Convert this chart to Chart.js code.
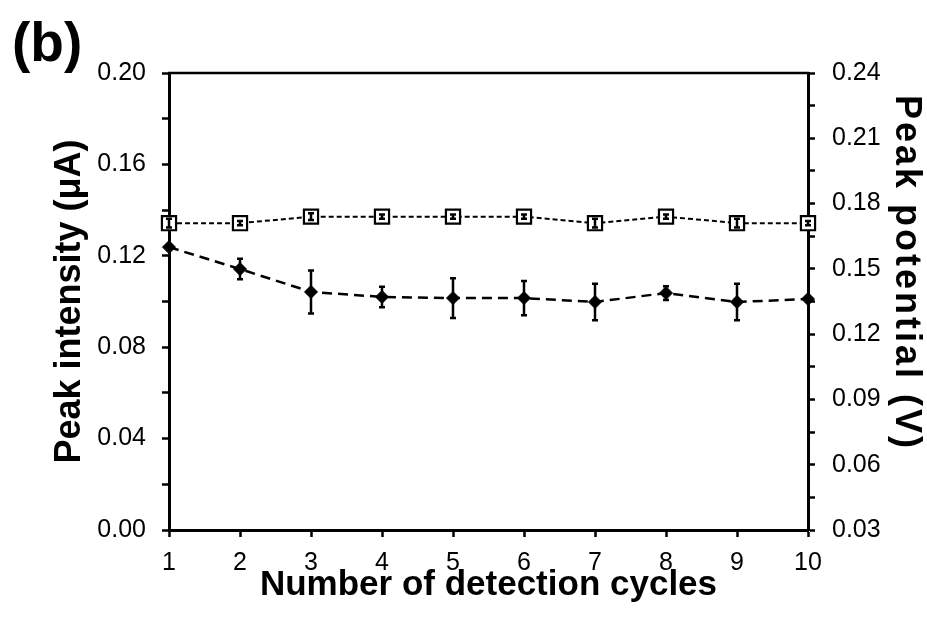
<!DOCTYPE html>
<html>
<head>
<meta charset="utf-8">
<script src="https://cdn.jsdelivr.net/npm/chart.js@4.4.1/dist/chart.umd.min.js"></script>
<style>
html, body { margin: 0; padding: 0; background: #fff; }
#wrap { width: 927px; height: 629px; }
</style>
</head>
<body>
<div id="wrap"><canvas id="chart" width="927" height="629"></canvas></div>
<script>
// values
const cycles = [1, 2, 3, 4, 5, 6, 7, 8, 9, 10];
const intensity = [0.1238, 0.1142, 0.1042, 0.1020, 0.1015, 0.1015, 0.0998, 0.1037, 0.0998, 0.1011];
const intensityErr = [0.001, 0.0045, 0.0094, 0.0045, 0.0087, 0.0075, 0.008, 0.003, 0.008, 0.001];
const potential = [0.171, 0.171, 0.174, 0.174, 0.174, 0.174, 0.171, 0.174, 0.171, 0.171];
const potentialErr = [0.002, 0.001, 0.0015, 0.001, 0.001, 0.001, 0.002, 0.001, 0.002, 0.001];
const intensityTicks = [0.00, 0.04, 0.08, 0.12, 0.16, 0.20];
const potentialTicks = [0.03, 0.06, 0.09, 0.12, 0.15, 0.18, 0.21, 0.24];

const FONT = "'Liberation Sans', Arial, sans-serif";

function majorLabel(list) {
    return function (value) {
        for (var i = 0; i < list.length; i++) {
            if (Math.abs(list[i] - value) < 1e-6) return list[i].toFixed(2);
        }
        return '';
    };
}

// vertical error bars with small caps
const errorBars = {
    id: 'errorBars',
    afterDatasetsDraw(chart) {
        const ctx = chart.ctx;
        const xs = chart.scales.x;
        ctx.save();
        ctx.strokeStyle = '#000';
        ctx.lineWidth = 2.5;
        [[intensity, intensityErr, 'y'], [potential, potentialErr, 'y1']].forEach(function (set) {
            const ys = chart.scales[set[2]];
            cycles.forEach(function (c, i) {
                const px = xs.getPixelForValue(c);
                const top = ys.getPixelForValue(set[0][i] + set[1][i]);
                const bot = ys.getPixelForValue(set[0][i] - set[1][i]);
                ctx.beginPath();
                ctx.moveTo(px, top); ctx.lineTo(px, bot);
                ctx.moveTo(px - 3, top); ctx.lineTo(px + 3, top);
                ctx.moveTo(px - 3, bot); ctx.lineTo(px + 3, bot);
                ctx.stroke();
            });
        });
        ctx.restore();
    }
};

// top frame line, panel letter and right axis title
const decorations = {
    id: 'decorations',
    beforeDatasetsDraw(chart) {
        const a = chart.chartArea;
        const ctx = chart.ctx;
        ctx.save();
        ctx.strokeStyle = '#000';
        ctx.lineWidth = 2.5;
        ctx.beginPath();
        ctx.moveTo(a.left - 1, a.top);
        ctx.lineTo(a.right + 1, a.top);
        ctx.stroke();
        ctx.restore();
    },
    afterDraw(chart) {
        const ctx = chart.ctx;
        ctx.save();
        ctx.fillStyle = '#000';
        ctx.font = 'bold 55px ' + FONT;
        ctx.textBaseline = 'alphabetic';
        ctx.textAlign = 'left';
        ctx.fillText('(b)', 12, 61);

        ctx.translate(906, 273);
        ctx.rotate(Math.PI / 2);
        ctx.font = 'bold 36px ' + FONT;
        ctx.letterSpacing = '3px';
        ctx.textAlign = 'center';
        ctx.textBaseline = 'middle';
        ctx.fillText('Peak potential (V)', 0, 0);
        ctx.restore();
    }
};

new Chart(document.getElementById('chart').getContext('2d'), {
    type: 'line',
    data: {
        datasets: [
            {
                label: 'Peak intensity',
                data: cycles.map((c, i) => ({ x: c, y: intensity[i] })),
                yAxisID: 'y',
                borderColor: '#000',
                borderWidth: 2.5,
                borderDash: [10, 6],
                tension: 0,
                pointStyle: 'rectRot',
                pointRadius: 6.5,
                pointBackgroundColor: '#000',
                pointBorderColor: '#000',
                pointBorderWidth: 1,
                clip: false
            },
            {
                label: 'Peak potential',
                data: cycles.map((c, i) => ({ x: c, y: potential[i] })),
                yAxisID: 'y1',
                borderColor: '#000',
                borderWidth: 2,
                borderDash: [5, 3],
                tension: 0,
                pointStyle: 'rect',
                pointRadius: 10,
                pointBackgroundColor: '#fff',
                pointBorderColor: '#000',
                pointBorderWidth: 2.2,
                clip: false
            }
        ]
    },
    options: {
        responsive: false,
        animation: false,
        events: [],
        layout: { padding: { top: 73, left: 0, right: 0, bottom: 0 } },
        plugins: {
            legend: { display: false },
            tooltip: { enabled: false }
        },
        scales: {
            x: {
                type: 'linear',
                min: 1,
                max: 10,
                afterFit: s => { s.height = 99; },
                border: { color: '#000', width: 3 },
                grid: { drawOnChartArea: false, tickLength: 7, tickWidth: 2.5, tickColor: '#000' },
                ticks: { stepSize: 1, color: '#000', padding: 11, font: { family: FONT, size: 25 } },
                title: {
                    display: true,
                    text: 'Number of detection cycles',
                    color: '#000',
                    padding: { top: 0, bottom: 23 },
                    font: { family: FONT, size: 35, weight: 'bold' }
                }
            },
            y: {
                type: 'linear',
                position: 'left',
                min: 0,
                max: 0.2,
                afterFit: s => { s.width = 169; },
                border: { color: '#000', width: 3 },
                grid: { drawOnChartArea: false, tickLength: 7, tickWidth: 2.5, tickColor: '#000' },
                ticks: {
                    stepSize: 0.02,
                    autoSkip: false,
                    color: '#000',
                    padding: 16,
                    font: { family: FONT, size: 25 },
                    callback: majorLabel(intensityTicks)
                },
                title: {
                    display: true,
                    text: 'Peak intensity (\u03BCA)',
                    color: '#000',
                    padding: { top: 48, bottom: 0 },
                    font: { family: FONT, size: 36, weight: 'bold' }
                }
            },
            y1: {
                type: 'linear',
                position: 'right',
                min: 0.03,
                max: 0.24,
                afterFit: s => { s.width = 119; },
                border: { color: '#000', width: 3 },
                grid: { drawOnChartArea: false, tickLength: 7, tickWidth: 2.5, tickColor: '#000' },
                ticks: {
                    stepSize: 0.015,
                    autoSkip: false,
                    color: '#000',
                    padding: 17,
                    font: { family: FONT, size: 25 },
                    callback: majorLabel(potentialTicks)
                }
            }
        }
    },
    plugins: [errorBars, decorations]
});
</script>
</body>
</html>
